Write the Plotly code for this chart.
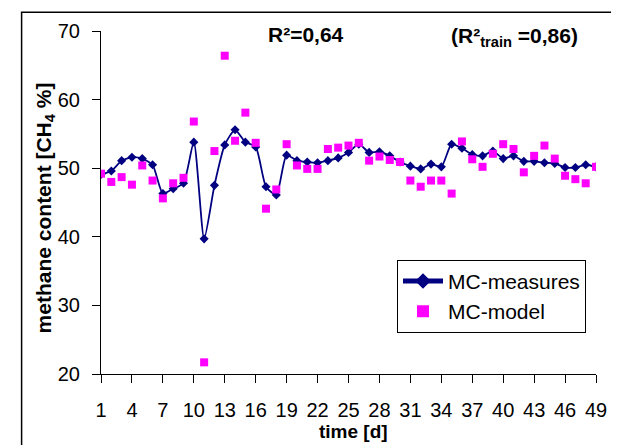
import plotly.graph_objects as go

days = list(range(1, 50))
mc_measures = [49.1, 49.6, 51.1, 51.6, 51.4, 50.5, 46.3, 47.0, 47.8, 53.8,
               39.7, 47.5, 53.4, 55.6, 53.8, 53.1, 47.3, 46.1, 51.9, 51.1,
               50.9, 50.8, 51.1, 51.5, 52.3, 53.5, 52.3, 52.4, 51.8, 50.9,
               50.3, 49.9, 50.6, 50.2, 53.5, 52.9, 52.0, 51.8, 52.5, 51.4,
               51.8, 51.0, 51.0, 50.8, 50.7, 50.1, 50.1, 50.5, 50.2]
mc_model = [49.2, 48.0, 48.7, 47.6, 50.4, 48.2, 45.6, 47.8, 48.6, 56.8,
            21.7, 52.5, 66.4, 54.0, 58.1, 53.7, 44.1, 46.9, 53.5, 50.4,
            49.9, 49.9, 52.8, 53.0, 53.3, 53.7, 51.1, 51.7, 51.2, 50.9,
            48.2, 47.3, 48.2, 48.2, 46.3, 53.9, 51.3, 50.2, 52.1, 53.5,
            52.8, 49.4, 51.8, 53.3, 51.4, 48.9, 48.4, 47.8, 50.2]
x_ticks = list(range(1, 50, 3))
y_ticks = [20, 30, 40, 50, 60, 70]

FONT = "Arial, Liberation Sans, sans-serif"

fig = go.Figure()
fig.add_trace(go.Scatter(
    x=days, y=mc_measures, name="MC-measures", mode="lines+markers",
    line=dict(color="#000080", width=1.8, shape="spline", smoothing=0.6),
    marker=dict(symbol="diamond", size=7, color="#000080"),
))
fig.add_trace(go.Scatter(
    x=days, y=mc_model, name="MC-model", mode="markers",
    marker=dict(symbol="square", size=8, color="#FF00FF"),
))

# page body has an 8px default margin, so the figure is 8px smaller than the window
fig.update_layout(
    width=611, height=437,
    margin=dict(l=93, r=13, t=18, b=71),
    paper_bgcolor="white", plot_bgcolor="white",
    font=dict(family=FONT, size=20, color="black"),
    showlegend=True,
    legend=dict(
        x=0.598, y=0.333, xanchor="left", yanchor="top",
        bordercolor="black", borderwidth=1, bgcolor="white",
        font=dict(family=FONT, size=21, color="black"),
        tracegroupgap=0, itemsizing="constant", itemwidth=40,
    ),
)
fig.update_xaxes(
    range=[1, 49], tickmode="array", tickvals=x_ticks,
    ticks="outside", ticklen=8, tickcolor="black", tickwidth=1,
    showline=True, linecolor="black", linewidth=1,
    showgrid=False, zeroline=False,
    tickfont=dict(family=FONT, size=20, color="black"),
    ticklabelstandoff=10,
)
fig.update_yaxes(
    range=[20, 70], tickmode="array", tickvals=y_ticks,
    ticks="outside", ticklen=8, tickcolor="black", tickwidth=1,
    showline=True, linecolor="black", linewidth=1,
    showgrid=False, zeroline=False,
    tickfont=dict(family=FONT, size=20, color="black"),
    ticklabelstandoff=8,
)

fig.add_annotation(text="<b>time [d]</b>", xref="paper", yref="paper",
                   x=0.511, y=-0.167, xanchor="center", yanchor="middle", showarrow=False,
                   font=dict(family=FONT, size=19, color="black"))
fig.add_annotation(text="<b>methane content [CH<sub>4</sub> %]</b>", xref="paper", yref="paper",
                   x=-0.113, y=0.483, xanchor="center", yanchor="middle", textangle=-90, showarrow=False,
                   font=dict(family=FONT, size=21, color="black"))
fig.add_annotation(text="<b>R²=0,64</b>", xref="paper", yref="paper",
                   x=0.414, y=0.99, xanchor="center", yanchor="middle", showarrow=False,
                   font=dict(family=FONT, size=21, color="black"))
fig.add_annotation(text="<b>(R²<sub>train</sub> =0,86)</b>", xref="paper", yref="paper",
                   x=0.835, y=0.983, xanchor="center", yanchor="middle", showarrow=False,
                   font=dict(family=FONT, size=21, color="black"))

fig.add_shape(type="rect", xref="paper", yref="paper",
              x0=-0.1604, y0=-0.4, x1=1.2, y1=1.0546,
              line=dict(color="black", width=1.5), fillcolor="rgba(0,0,0,0)",
              layer="below")

fig.write_html("out.html")
